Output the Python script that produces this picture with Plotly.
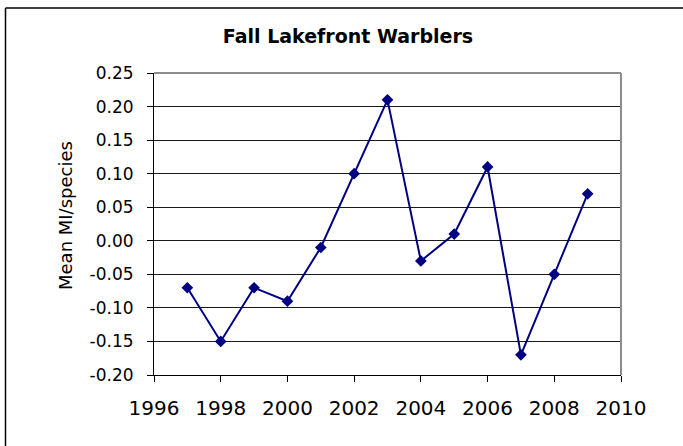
import plotly.graph_objects as go

years = [1997, 1998, 1999, 2000, 2001, 2002, 2003, 2004, 2005, 2006, 2007, 2008, 2009]
mean_mi = [-0.07, -0.15, -0.07, -0.09, -0.01, 0.10, 0.21, -0.03, 0.01, 0.11, -0.17, -0.05, 0.07]
y_ticks = [-0.20, -0.15, -0.10, -0.05, 0.00, 0.05, 0.10, 0.15, 0.20, 0.25]
x_ticks = [1996, 1998, 2000, 2002, 2004, 2006, 2008, 2010]

W, H = 683, 446
L, R, T, B = 154, 621, 73, 375

fig = go.Figure()
fig.add_trace(go.Scatter(
    x=years, y=mean_mi, mode="lines+markers",
    line=dict(color="#000080", width=2),
    marker=dict(symbol="diamond", size=9, color="#000080"),
    showlegend=False, cliponaxis=False,
))

pw, ph = R - L, B - T
def px(x):
    return (x - L) / pw
def py(y):
    return (B - y) / ph

fig.update_layout(
    width=W, height=H,
    margin=dict(l=L, r=W - R, t=T, b=H - B, pad=0),
    paper_bgcolor="white", plot_bgcolor="white",
    font=dict(family="DejaVu Sans", color="black"),
    title=dict(text="<b>Fall Lakefront Warblers</b>", x=348 / W, xanchor="center",
               y=1 - 36 / H, yanchor="middle", font=dict(size=19, family="DejaVu Sans")),
    xaxis=dict(range=[1996, 2010], tickvals=x_ticks, ticktext=[str(v) for v in x_ticks],
               showgrid=False, zeroline=False, showline=True, linecolor="black", linewidth=1,
               ticks="outside", ticklen=6, tickcolor="black", ticklabelstandoff=9,
               tickfont=dict(size=20, family="DejaVu Sans"), mirror=False),
    yaxis=dict(range=[-0.20, 0.25], tickvals=y_ticks, ticktext=[f"{v:.2f}" for v in y_ticks],
               showgrid=True, gridcolor="#1a1a1a", gridwidth=1, zeroline=False,
               showline=True, linecolor="black", linewidth=1,
               ticks="outside", ticklen=6, tickcolor="black", ticklabelstandoff=10,
               tickfont=dict(size=17, family="DejaVu Sans")),
    annotations=[
        dict(text="Mean MI/species", xref="paper", yref="paper", x=px(65), y=py(216),
             xanchor="center", yanchor="middle", textangle=-90, showarrow=False,
             font=dict(size=18, family="DejaVu Sans")),
    ],
    shapes=[
        dict(type="line", xref="paper", yref="paper", x0=0, x1=1, y0=1, y1=1,
             line=dict(color="#8c8c8c", width=2)),
        dict(type="line", xref="paper", yref="paper", x0=1, x1=1, y0=0, y1=1,
             line=dict(color="#8c8c8c", width=2)),
        dict(type="line", xref="paper", yref="paper",
             x0=px(5.5), x1=px(700), y0=py(8), y1=py(8),
             line=dict(color="black", width=1.5)),
        dict(type="line", xref="paper", yref="paper",
             x0=px(5.5), x1=px(5.5), y0=py(8), y1=py(460),
             line=dict(color="black", width=1.5)),
    ],
)

fig.write_html("out.html", config={"displayModeBar": False},
               post_script="document.body.style.margin='0';")
